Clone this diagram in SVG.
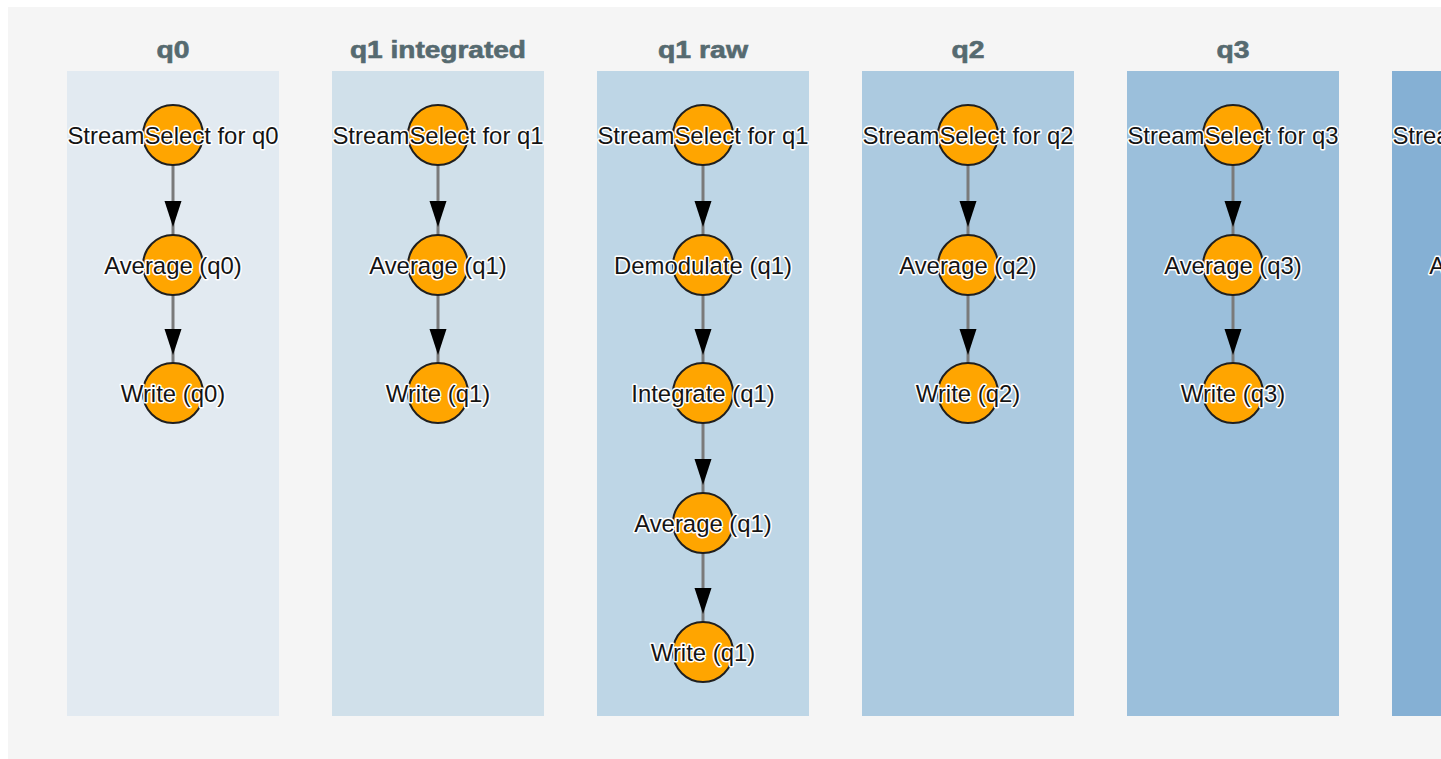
<svg xmlns="http://www.w3.org/2000/svg" width="1441" height="759" viewBox="0 0 1441 759">
  <style>
    .lane { stroke: none; }
    .title { font-family: "Liberation Sans", Arial, sans-serif; font-weight: bold; font-size: 23px; fill: #566a70; text-anchor: middle; stroke: #566a70; stroke-width: 0.6; }
    .node circle { fill: #ffa500; stroke: #1f1f1f; stroke-width: 2; }
    .node text { font-family: "Liberation Sans", Arial, sans-serif; font-size: 23.9px; fill: #141414; text-anchor: middle; stroke: #ffffff; stroke-width: 3; stroke-linejoin: round; paint-order: stroke; }
    .edge line { stroke: #7a7a7a; stroke-width: 3; }
    .edge use { fill: #000000; }
  </style>
  <defs>
    <polygon id="head" points="-8.5,0 8.5,0 0,26"/>
  </defs>

  <rect x="0" y="0" width="1441" height="759" fill="#ffffff"/>
  <rect x="8" y="7" width="1433" height="752" fill="#f5f5f5"/>

  <!-- lanes -->
  <g id="lanes">
    <rect class="lane" x="67" y="71" width="212" height="645" fill="#e2eaf1"/>
    <rect class="lane" x="332" y="71" width="212" height="645" fill="#d0e0ea"/>
    <rect class="lane" x="597" y="71" width="212" height="645" fill="#bed6e6"/>
    <rect class="lane" x="862" y="71" width="212" height="645" fill="#accae0"/>
    <rect class="lane" x="1127" y="71" width="212" height="645" fill="#9bbfdb"/>
    <rect class="lane" x="1392" y="71" width="212" height="645" fill="#85b0d4"/>
  </g>

  <!-- lane titles -->
  <g id="titles">
    <text class="title" x="173" y="58" textLength="33" lengthAdjust="spacingAndGlyphs">q0</text>
    <text class="title" x="438" y="58" textLength="176" lengthAdjust="spacingAndGlyphs">q1 integrated</text>
    <text class="title" x="703" y="58" textLength="90" lengthAdjust="spacingAndGlyphs">q1 raw</text>
    <text class="title" x="968" y="58" textLength="33" lengthAdjust="spacingAndGlyphs">q2</text>
    <text class="title" x="1233" y="58" textLength="33" lengthAdjust="spacingAndGlyphs">q3</text>
  </g>

  <!-- connectors -->
  <g id="edges" class="edge">
    <line x1="173" y1="165" x2="173" y2="235"/><use href="#head" x="173" y="201"/>
    <line x1="173" y1="295" x2="173" y2="363"/><use href="#head" x="173" y="329"/>

    <line x1="438" y1="165" x2="438" y2="235"/><use href="#head" x="438" y="201"/>
    <line x1="438" y1="295" x2="438" y2="363"/><use href="#head" x="438" y="329"/>

    <line x1="703" y1="165" x2="703" y2="235"/><use href="#head" x="703" y="201"/>
    <line x1="703" y1="295" x2="703" y2="363"/><use href="#head" x="703" y="329"/>
    <line x1="703" y1="423" x2="703" y2="493"/><use href="#head" x="703" y="459"/>
    <line x1="703" y1="553" x2="703" y2="622"/><use href="#head" x="703" y="588"/>

    <line x1="968" y1="165" x2="968" y2="235"/><use href="#head" x="968" y="201"/>
    <line x1="968" y1="295" x2="968" y2="363"/><use href="#head" x="968" y="329"/>

    <line x1="1233" y1="165" x2="1233" y2="235"/><use href="#head" x="1233" y="201"/>
    <line x1="1233" y1="295" x2="1233" y2="363"/><use href="#head" x="1233" y="329"/>
  </g>

  <!-- q0 -->
  <g id="q0-select" class="node"><circle cx="173" cy="135" r="30"/><text x="173" y="143.5">StreamSelect for q0</text></g>
  <g id="q0-average" class="node"><circle cx="173" cy="265" r="30"/><text x="173" y="273.5">Average (q0)</text></g>
  <g id="q0-write" class="node"><circle cx="173" cy="393" r="30"/><text x="173" y="401.5">Write (q0)</text></g>

  <!-- q1 integrated -->
  <g id="q1i-select" class="node"><circle cx="438" cy="135" r="30"/><text x="438" y="143.5">StreamSelect for q1</text></g>
  <g id="q1i-average" class="node"><circle cx="438" cy="265" r="30"/><text x="438" y="273.5">Average (q1)</text></g>
  <g id="q1i-write" class="node"><circle cx="438" cy="393" r="30"/><text x="438" y="401.5">Write (q1)</text></g>

  <!-- q1 raw -->
  <g id="q1r-select" class="node"><circle cx="703" cy="135" r="30"/><text x="703" y="143.5">StreamSelect for q1</text></g>
  <g id="q1r-demod" class="node"><circle cx="703" cy="265" r="30"/><text x="703" y="273.5">Demodulate (q1)</text></g>
  <g id="q1r-integrate" class="node"><circle cx="703" cy="393" r="30"/><text x="703" y="401.5">Integrate (q1)</text></g>
  <g id="q1r-average" class="node"><circle cx="703" cy="523" r="30"/><text x="703" y="531.5">Average (q1)</text></g>
  <g id="q1r-write" class="node"><circle cx="703" cy="652" r="30"/><text x="703" y="660.5">Write (q1)</text></g>

  <!-- q2 -->
  <g id="q2-select" class="node"><circle cx="968" cy="135" r="30"/><text x="968" y="143.5">StreamSelect for q2</text></g>
  <g id="q2-average" class="node"><circle cx="968" cy="265" r="30"/><text x="968" y="273.5">Average (q2)</text></g>
  <g id="q2-write" class="node"><circle cx="968" cy="393" r="30"/><text x="968" y="401.5">Write (q2)</text></g>

  <!-- q3 -->
  <g id="q3-select" class="node"><circle cx="1233" cy="135" r="30"/><text x="1233" y="143.5">StreamSelect for q3</text></g>
  <g id="q3-average" class="node"><circle cx="1233" cy="265" r="30"/><text x="1233" y="273.5">Average (q3)</text></g>
  <g id="q3-write" class="node"><circle cx="1233" cy="393" r="30"/><text x="1233" y="401.5">Write (q3)</text></g>

  <!-- q4 (continues past the right edge) -->
  <g id="q4-select" class="node"><text x="1498" y="143.5">StreamSelect for q4</text></g>
  <g id="q4-average" class="node"><text x="1498" y="273.5">Average (q4)</text></g>
</svg>
